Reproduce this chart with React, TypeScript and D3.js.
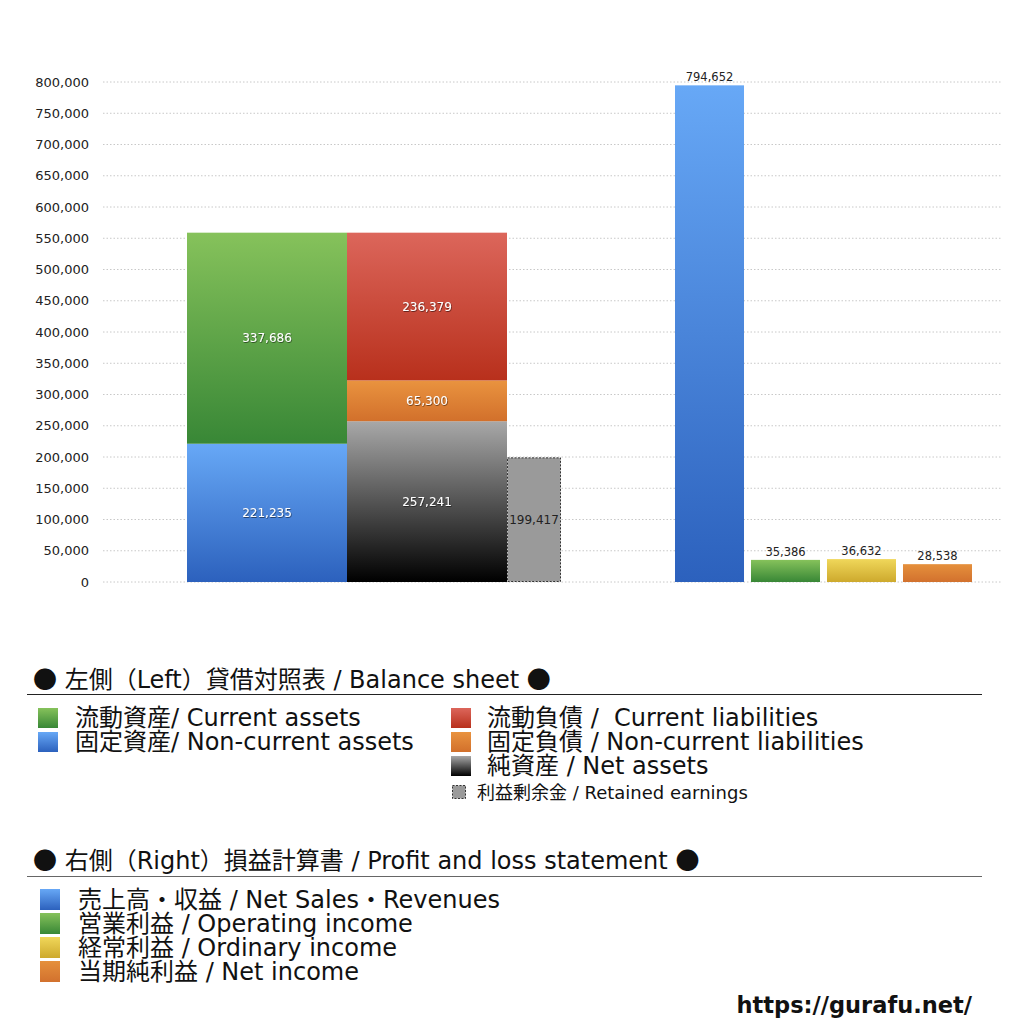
import React from "react";
import * as d3 from "d3";

const yTicks = [0, 50000, 100000, 150000, 200000, 250000, 300000, 350000, 400000, 450000, 500000, 550000, 600000, 650000, 700000, 750000, 800000];

const bsColumns = ["assets", "liabilities"];
const assetsValues = [221235, 337686]; // non-current (bottom), current (top)
const assetsGrad = ["blue", "green"];
const liabValues = [257241, 65300, 236379]; // net assets, non-current liab, current liab
const liabGrad = ["black", "orange", "red"];
const retainedEarnings = 199417;

const plCategories = ["売上高", "営業利益", "経常利益", "当期純利益"];
const plValues = [794652, 35386, 36632, 28538];
const plGrad = ["blue", "green", "yellow", "orange2"];

const leftLegendA = [
  { g: "green", t: "流動資産/ Current assets" },
  { g: "blue", t: "固定資産/ Non-current assets" },
];
const leftLegendB = [
  { g: "red", t: "流動負債 /  Current liabilities" },
  { g: "orange", t: "固定負債 / Non-current liabilities" },
  { g: "black", t: "純資産 / Net assets" },
];
const rightLegend = [
  { g: "blue", t: "売上高・収益 / Net Sales・Revenues" },
  { g: "green", t: "営業利益 / Operating income" },
  { g: "yellow", t: "経常利益 / Ordinary income" },
  { g: "orange2", t: "当期純利益 / Net income" },
];

const gradients: Record<string, [string, string]> = {
  green: ["#86c25b", "#388736"],
  blue: ["#67a8f6", "#2c61bd"],
  red: ["#dc665b", "#b8301c"],
  orange: ["#e9933f", "#d2702b"],
  black: ["#a8a8a8", "#000000"],
  yellow: ["#f0d75a", "#cda92d"],
  orange2: ["#e5903c", "#d2712e"],
};

const FONT = "'DejaVu Sans', 'Noto Sans CJK JP', sans-serif";
const CJK = "'Noto Sans CJK JP', sans-serif";
const fmt = d3.format(",");

export default function App() {
  const y = d3.scaleLinear().domain([0, 800000]).range([582, 82]);
  const xBS = d3.scaleBand().domain(bsColumns).range([187, 507]).padding(0);
  const xPL = d3
    .scaleBand()
    .domain(plCategories)
    .range([675, 972])
    .paddingInner(0.092)
    .paddingOuter(0);

  const stack = (vals: number[]) => {
    let acc = 0;
    return vals.map((v) => {
      const y0 = acc;
      acc += v;
      return { v, y0, y1: acc };
    });
  };
  const assetsStack = stack(assetsValues);
  const liabStack = stack(liabValues);
  const retW = 54;
  const retX = (xBS("liabilities") as number) + xBS.bandwidth();

  const whiteLabel = {
    fill: "#fff",
    fontSize: 12,
    textAnchor: "middle" as const,
    filter: "url(#tshadow)",
  };
  const LF = 24;
  const HF = 24;
  const pre = { whiteSpace: "pre" as const };

  return (
    <svg
      width={1024}
      height={1024}
      style={{ position: "absolute", left: 0, top: 0, background: "#fff" }}
      fontFamily={FONT}
    >
      <defs>
        {Object.entries(gradients).map(([k, [c1, c2]]) => (
          <linearGradient key={k} id={`g-${k}`} x1="0" y1="0" x2="0" y2="1">
            <stop offset="0" stopColor={c1} />
            <stop offset="1" stopColor={c2} />
          </linearGradient>
        ))}
        <filter id="tshadow" x="-20%" y="-20%" width="140%" height="140%">
          <feDropShadow dx="0.6" dy="0.8" stdDeviation="0.5" floodColor="#000" floodOpacity="0.6" />
        </filter>
      </defs>

      {/* grid + y axis */}
      {yTicks.map((t) => (
        <g key={t}>
          <line
            x1={103}
            x2={1002}
            y1={y(t)}
            y2={y(t)}
            stroke="#c8c8c8"
            strokeWidth={1}
            strokeDasharray="1.5,2"
          />
          <text x={89} y={y(t)} dy="0.35em" textAnchor="end" fontSize={13} fill="#222">
            {fmt(t)}
          </text>
        </g>
      ))}

      {/* balance sheet: assets */}
      {assetsStack.map((s, i) => (
        <g key={`a${i}`}>
          <rect
            x={xBS("assets")}
            width={xBS.bandwidth()}
            y={y(s.y1)}
            height={y(s.y0) - y(s.y1)}
            fill={`url(#g-${assetsGrad[i]})`}
          />
          <text x={(xBS("assets") as number) + xBS.bandwidth() / 2} y={(y(s.y0) + y(s.y1)) / 2} dy="0.35em" {...whiteLabel}>
            {fmt(s.v)}
          </text>
        </g>
      ))}
      {liabStack.map((s, i) => (
        <g key={`l${i}`}>
          <rect
            x={xBS("liabilities")}
            width={xBS.bandwidth()}
            y={y(s.y1)}
            height={y(s.y0) - y(s.y1)}
            fill={`url(#g-${liabGrad[i]})`}
          />
          <text x={(xBS("liabilities") as number) + xBS.bandwidth() / 2} y={(y(s.y0) + y(s.y1)) / 2} dy="0.35em" {...whiteLabel}>
            {fmt(s.v)}
          </text>
        </g>
      ))}
      <rect
        x={retX + 0.5}
        width={retW - 1}
        y={y(retainedEarnings) + 0.5}
        height={y(0) - y(retainedEarnings) - 1}
        fill="#9a9a9a"
        stroke="#333"
        strokeWidth={1}
        strokeDasharray="2,1.5"
      />
      <text x={retX + retW / 2} y={(y(0) + y(retainedEarnings)) / 2} dy="0.35em" textAnchor="middle" fontSize={12} fill="#222">
        {fmt(retainedEarnings)}
      </text>

      {/* P&L bars */}
      {plCategories.map((c, i) => (
        <g key={c}>
          <rect
            x={xPL(c)}
            width={xPL.bandwidth()}
            y={y(plValues[i])}
            height={y(0) - y(plValues[i])}
            fill={`url(#g-${plGrad[i]})`}
          />
          <text x={(xPL(c) as number) + xPL.bandwidth() / 2} y={y(plValues[i]) - 4} textAnchor="middle" fontSize={11.5} fill="#222">
            {fmt(plValues[i])}
          </text>
        </g>
      ))}

      {/* Legend: left */}
      <text x={33} y={688} fontSize={HF} fill="#111" style={pre}>
        <tspan fontFamily={CJK}>●</tspan> 左側（Left）貸借対照表 / Balance sheet <tspan fontFamily={CJK}>●</tspan>
      </text>
      <line x1={27} x2={982} y1={694.5} y2={694.5} stroke="#222" strokeWidth={1} />
      {leftLegendA.map((d, i) => (
        <g key={d.t}>
          <rect x={38} y={708 + i * 24} width={20} height={20} fill={`url(#g-${d.g})`} />
          <text x={75} y={726 + i * 24} fontSize={LF} fill="#111" style={pre}>
            {d.t}
          </text>
        </g>
      ))}
      {leftLegendB.map((d, i) => (
        <g key={d.t}>
          <rect x={451} y={708 + i * 24} width={20} height={20} fill={`url(#g-${d.g})`} />
          <text x={487} y={726 + i * 24} fontSize={LF} fill="#111" style={pre}>
            {d.t}
          </text>
        </g>
      ))}
      <rect x={452.5} y={785.5} width={13} height={13} fill="#9a9a9a" stroke="#333" strokeWidth={1} strokeDasharray="2,1.5" />
      <text x={477} y={799} fontSize={18} fill="#111">
        利益剰余金 / Retained earnings
      </text>

      {/* Legend: right */}
      <text x={33} y={869} fontSize={HF} fill="#111" style={pre}>
        <tspan fontFamily={CJK}>●</tspan> 右側（Right）損益計算書 / Profit and loss statement <tspan fontFamily={CJK}>●</tspan>
      </text>
      <line x1={27} x2={982} y1={876.5} y2={876.5} stroke="#666" strokeWidth={1} />
      {rightLegend.map((d, i) => (
        <g key={d.t}>
          <rect x={40} y={889 + i * 24} width={20} height={21} fill={`url(#g-${d.g})`} />
          <text x={78} y={908 + i * 24} fontSize={LF} fill="#111" style={pre}>
            {d.t}
          </text>
        </g>
      ))}

      <text x={972} y={1013} textAnchor="end" fontSize={22.5} fontWeight="bold" fill="#111">
        https://gurafu.net/
      </text>
    </svg>
  );
}
